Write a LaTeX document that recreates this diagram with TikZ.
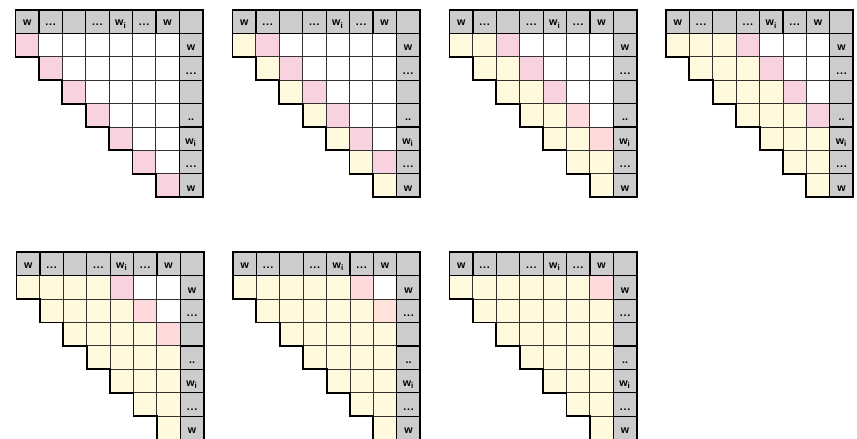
\documentclass[tikz,border=0pt]{standalone}
\usepackage{fontspec}
\setmainfont{Liberation Sans}
\definecolor{hdrgray}{HTML}{CCCCCC}
\definecolor{cellpink}{HTML}{F8D3DF}
\definecolor{cellsalmon}{HTML}{FFDADC}
\definecolor{cellpeach}{HTML}{FFE3DB}
\definecolor{cellyellow}{HTML}{FFF9DD}
\newcommand{\tdots}{.\kern0.6pt.\kern0.6pt.}
\tikzset{
  hdr/.style={fill=hdrgray,draw=black,line width=0.9pt},
  cell/.style={draw=black!80,line width=0.7pt},
  rim/.style={draw=black,line width=1.4pt,line join=miter},
  lbl/.style={font=\fontsize{8}{9}\selectfont\bfseries,inner sep=0pt,anchor=base},
}
\begin{document}
\begin{tikzpicture}[x=0.75pt,y=-0.75pt]
\useasboundingbox (0,0) rectangle (857,439);
\def\s{23.4}
\foreach \k/\gx/\gy in {0/15.5/10, 1/232.5/10, 2/449.5/10, 3/666/10,
                         4/16.5/252.3, 5/233/252.3, 6/449.5/252.3}{
  \begin{scope}[shift={(\gx,\gy)}]
    % Zellen
    \foreach \r in {1,...,7}{
      \foreach \c in {\r,...,7}{
        \pgfmathtruncatemacro{\d}{\c-\r}
        \ifnum\d<\k \def\fc{cellyellow}\else\ifnum\d=\k \def\fc{cellpink}\else\def\fc{white}\fi\fi
        \fill[\fc] ({(\c-1)*\s},{\r*\s}) rectangle ++(\s,\s);
      }
    }
    % Abweichende Farben
    \foreach \kk/\r/\c/\fc in {2/4/6/cellsalmon, 2/5/7/cellsalmon, 4/2/6/cellsalmon,
                               4/3/7/cellsalmon, 5/1/6/cellsalmon, 5/2/7/cellpeach,
                               6/1/7/cellsalmon}{
      \ifnum\kk=\k \fill[\fc] ({(\c-1)*\s},{\r*\s}) rectangle ++(\s,\s);\fi
    }
    \foreach \r in {1,...,7}{
      \foreach \c in {\r,...,7}{
        \draw[cell] ({(\c-1)*\s},{\r*\s}) rectangle ++(\s,\s);
      }
    }
    % Kopfzeile und rechte Spalte
    \foreach \c in {0,...,7}{
      \draw[hdr] ({\c*\s},0) rectangle ++(\s,\s);
    }
    \foreach \r in {1,...,7}{
      \draw[hdr] ({7*\s},{\r*\s}) rectangle ++(\s,\s);
    }
    % Rand
    \draw[rim] (0,0) -- ({8*\s},0) -- ({8*\s},{8*\s}) -- ({6*\s},{8*\s})
      -- ({6*\s},{7*\s}) -- ({5*\s},{7*\s}) -- ({5*\s},{6*\s}) -- ({4*\s},{6*\s})
      -- ({4*\s},{5*\s}) -- ({3*\s},{5*\s}) -- ({3*\s},{4*\s}) -- ({2*\s},{4*\s})
      -- ({2*\s},{3*\s}) -- ({1*\s},{3*\s}) -- ({1*\s},{2*\s}) -- (0,{2*\s}) -- cycle;
    % Beschriftung
    \foreach \c/\t in {0/w, 1/\tdots, 3/\tdots, 4/w\textsubscript{i}, 5/\tdots, 6/w}{
      \node[lbl] (h\k-\c) at ({(\c+0.5)*\s},{0.68*\s}) {\t};
    }
    \foreach \r/\t in {1/w, 2/\tdots, 4/.., 5/w\textsubscript{i}, 6/\tdots, 7/w}{
      \node[lbl] (v\k-\r) at ({7.5*\s},{(\r+0.74)*\s}) {\t};
    }
  \end{scope}
}
\end{tikzpicture}
\end{document}
